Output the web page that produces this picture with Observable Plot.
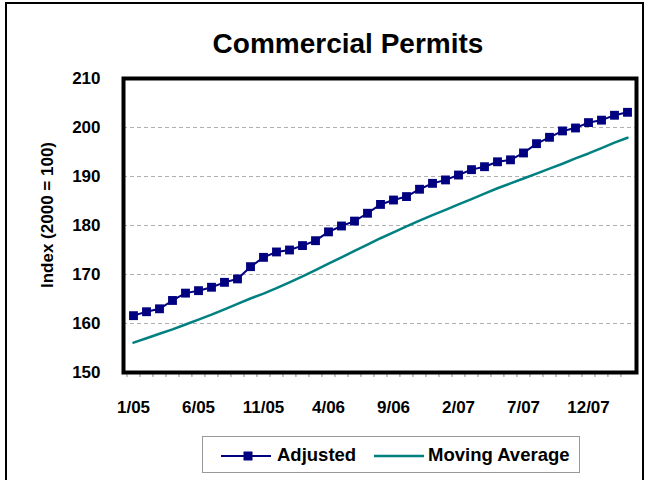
<!DOCTYPE html>
<html><head><meta charset="utf-8">
<script src="https://cdn.jsdelivr.net/npm/d3@7"></script>
<script src="https://cdn.jsdelivr.net/npm/@observablehq/plot@0.6"></script>
<style>
body{margin:0;overflow:hidden;background:#fff;font-family:"Liberation Sans",Arial,sans-serif;}
#wrap{position:relative;width:653px;height:480px;overflow:hidden;background:#fff;}
#frame{position:absolute;left:5px;top:2px;width:639px;height:500px;border:2px solid #000;box-sizing:border-box;}
#chart{position:absolute;left:0;top:0;}
#title{position:absolute;left:0;width:696px;top:30px;text-align:center;font-weight:bold;font-size:28px;line-height:1;}
#ylabel{position:absolute;left:48px;top:215px;transform:translate(-50%,-50%) rotate(-90deg);white-space:nowrap;font-weight:bold;font-size:17px;}
#legend{position:absolute;left:202px;top:436px;width:378px;height:37px;border:1px solid #999;box-sizing:border-box;background:#fff;}
#legend svg{position:absolute;left:0;top:0;}
#legend span{position:absolute;top:8px;font-weight:bold;font-size:18.5px;line-height:1.1;}
</style></head>
<body>
<div id="wrap">
  <div id="chart"></div>
  <div id="frame"></div>
  <div id="title">Commercial Permits</div>
  <div id="ylabel">Index (2000 = 100)</div>
  <div id="legend">
    <svg width="378" height="37">
      <line x1="18" x2="68" y1="19" y2="19" stroke="#000080" stroke-width="2"/>
      <rect x="40.5" y="14.5" width="9" height="9" fill="#000080"/>
      <line x1="171" x2="221" y1="19" y2="19" stroke="#008080" stroke-width="2.5"/>
    </svg>
    <span style="left:74px">Adjusted</span>
    <span style="left:225px">Moving Average</span>
  </div>
</div>
<script>
const months = ["1/05","2/05","3/05","4/05","5/05","6/05","7/05","8/05","9/05","10/05","11/05","12/05",
  "1/06","2/06","3/06","4/06","5/06","6/06","7/06","8/06","9/06","10/06","11/06","12/06",
  "1/07","2/07","3/07","4/07","5/07","6/07","7/07","8/07","9/07","10/07","11/07","12/07",
  "1/08","2/08","3/08"];
const labelMonths = ["1/05","6/05","11/05","4/06","9/06","2/07","7/07","12/07"];
const adjusted = [161.6,162.4,163.0,164.7,166.2,166.7,167.4,168.4,169.1,171.6,
  173.5,174.6,175.0,175.9,176.9,178.7,179.9,180.9,182.5,184.3,
  185.2,185.9,187.4,188.6,189.3,190.3,191.4,192.0,193.0,193.4,
  194.8,196.7,198.0,199.3,199.9,201.0,201.5,202.5,203.1];
const movingAvg = [156.1,157.0,157.9,158.8,159.8,160.8,161.8,162.9,164.0,165.1,
  166.1,167.2,168.4,169.6,170.9,172.2,173.5,174.8,176.1,177.4,
  178.6,179.8,181.0,182.1,183.2,184.3,185.4,186.5,187.6,188.6,
  189.6,190.6,191.6,192.6,193.7,194.7,195.8,196.9,197.9];
const yTicks = [150,160,170,180,190,200,210];
const gridTicks = [160,170,180,190,200];

const data = months.map((m,i)=>({month:m, adjusted:adjusted[i], ma:movingAvg[i]}));
const W = 653, H = 480, mL = 123, mR = 17, mT = 78, mB = 108;
const step = (W - mL - mR) / months.length;

const chart = Plot.plot({
  width: W, height: H,
  marginLeft: mL, marginRight: mR, marginTop: mT, marginBottom: mB,
  style: {fontFamily: "Liberation Sans, Arial, sans-serif", fontSize: "17px", fontWeight: "bold", color: "#000", background: "transparent", overflow: "visible"},
  x: {type: "point", domain: months, padding: 0.5},
  y: {domain: [150, 210]},
  marks: [
    Plot.gridY({ticks: gridTicks, stroke: "#b0b0b0", strokeOpacity: 1, strokeDasharray: "4,3"}),
    Plot.axisY({ticks: yTicks, tickSize: 0, tickPadding: 23, label: null}),
    Plot.axisX({ticks: months, tickSize: 5, tickFormat: () => "", dx: -step/2, stroke: "#888", label: null}),
    Plot.axisX({ticks: labelMonths, tickSize: 0, tickPadding: 28, label: null}),
    Plot.line(data, {x: "month", y: "ma", stroke: "#008080", strokeWidth: 2.5}),
    Plot.line(data, {x: "month", y: "adjusted", stroke: "#000080", strokeWidth: 2}),
    Plot.dot(data, {x: "month", y: "adjusted", symbol: "square", r: 5, fill: "#000080", stroke: "none"}),
    Plot.frame({stroke: "#000", strokeWidth: 4})
  ]
});
document.getElementById("chart").appendChild(chart);
</script>
</body></html>
